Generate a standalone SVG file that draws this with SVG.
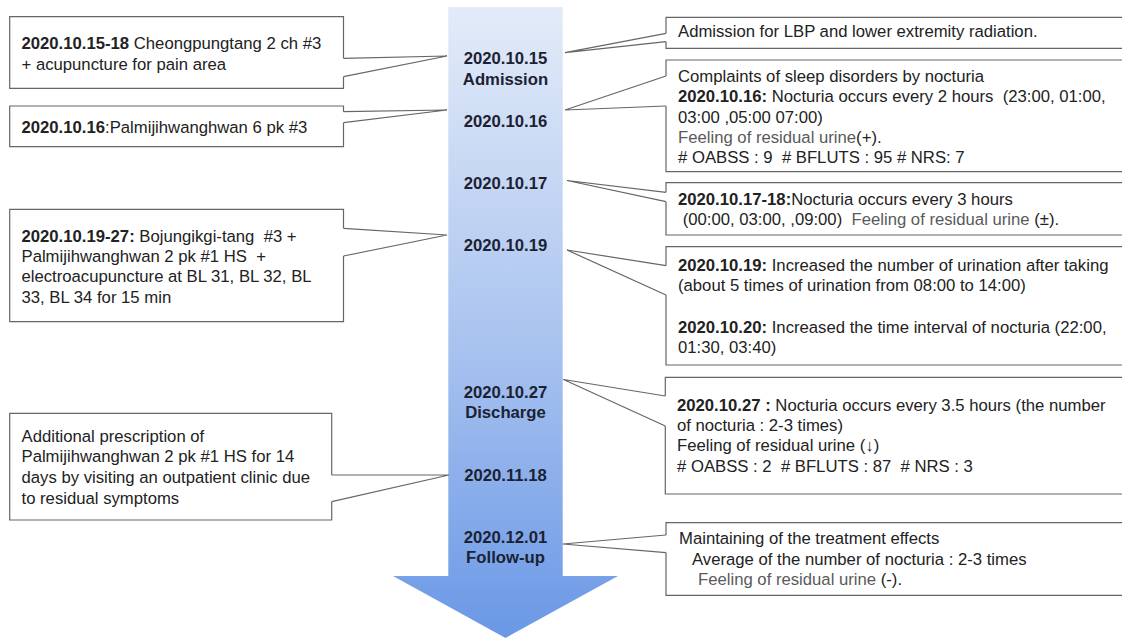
<svg xmlns="http://www.w3.org/2000/svg" width="1122" height="638" viewBox="0 0 1122 638">
<style>
text{font-family:"Liberation Sans",Arial,"DejaVu Sans",sans-serif;font-size:16.7px;fill:#222;white-space:pre}
.b{font-weight:bold}
.g{fill:#5a5a5a}
.lbl{font-weight:bold;text-anchor:middle;fill:#1c2233}
.box{fill:#fff;stroke:#666;stroke-width:1.2}
.con{fill:none;stroke:#666;stroke-width:1.2}
</style>
<defs>
<linearGradient id="ag" x1="0" y1="0" x2="0" y2="1">
<stop offset="0" stop-color="#e3ebf8"/>
<stop offset="0.5" stop-color="#adc6f0"/>
<stop offset="1" stop-color="#6a98e6"/>
</linearGradient>
</defs>
<rect width="1122" height="638" fill="#fff"/>
<g id="timeline-arrow">
<path d="M448.3,7 H562.7 V576 H618 L505.5,638 L393,576 H448.3 Z" fill="url(#ag)"/>
</g>
<g id="date-labels">
<g id="d1015"><text class="lbl" x="505.5" y="64.3">2020.10.15</text><text class="lbl" x="505.5" y="85">Admission</text></g>
<g id="d1016"><text class="lbl" x="505.5" y="126.7">2020.10.16</text></g>
<g id="d1017"><text class="lbl" x="505.5" y="189">2020.10.17</text></g>
<g id="d1019"><text class="lbl" x="505.5" y="251">2020.10.19</text></g>
<g id="d1027"><text class="lbl" x="505.5" y="397.7">2020.10.27</text><text class="lbl" x="505.5" y="417.7">Discharge</text></g>
<g id="d1118"><text class="lbl" x="505.5" y="481">2020.11.18</text></g>
<g id="d1201"><text class="lbl" x="505.5" y="542.7">2020.12.01</text><text class="lbl" x="505.5" y="563">Follow-up</text></g>
</g>
<g id="left-notes">
<g id="L1">
<path class="box" d="M343.5,58.3 V16.7 H9.7 V88.3 H343.5 V76.7"/>
<text x="21.5" y="49.3"><tspan class="b">2020.10.15-18</tspan> Cheongpungtang 2 ch #3</text>
<text x="21.5" y="69.5">+ acupuncture for pain area</text>
</g>
<g id="L2">
<path class="box" d="M343.5,111.7 V106 H9.7 V146.7 H343.5 V122.7"/>
<text x="21.5" y="132.7"><tspan class="b">2020.10.16</tspan>:Palmijihwanghwan 6 pk #3</text>
</g>
<g id="L3">
<path class="box" d="M343.5,228.3 V209.3 H9.7 V321.7 H343.5 V256"/>
<text x="21.5" y="241.7"><tspan class="b">2020.10.19-27:</tspan> Bojungikgi-tang  #3 +</text>
<text x="21.5" y="262">Palmijihwanghwan 2 pk #1 HS  +</text>
<text x="21.5" y="282.3">electroacupuncture at BL 31, BL 32, BL</text>
<text x="21.5" y="302.5">33, BL 34 for 15 min</text>
</g>
<g id="L4">
<path class="box" d="M331.7,475 V413.3 H9.7 V520 H331.7 V501.7"/>
<text x="21.5" y="441.7">Additional prescription of</text>
<text x="21.5" y="462.3">Palmijihwanghwan 2 pk #1 HS for 14</text>
<text x="21.5" y="483">days by visiting an outpatient clinic due</text>
<text x="21.5" y="503.5">to residual symptoms</text>
</g>
</g>
<g id="right-notes">
<g id="R1">
<path class="box" d="M666,33.3 V17.3 H1130 V48.3 H666 V41.7"/>
<text x="678" y="37.3">Admission for LBP and lower extremity radiation.</text>
</g>
<g id="R2">
<path class="box" d="M666,76 V60 H1130 V171.7 H666 V106"/>
<text x="678" y="81.7">Complaints of sleep disorders by nocturia</text>
<text x="678" y="102"><tspan class="b">2020.10.16:</tspan> Nocturia occurs every 2 hours  (23:00, 01:00,</text>
<text x="678" y="122.5">03:00 ,05:00 07:00)</text>
<text x="678" y="143"><tspan class="g">Feeling of residual urine</tspan>(+).</text>
<text x="678" y="163.3"># OABSS : 9  # BFLUTS : 95 # NRS: 7</text>
</g>
<g id="R3">
<path class="box" d="M666,192.3 V182.7 H1130 V235 H666 V201.7"/>
<text x="678" y="204.5"><tspan class="b">2020.10.17-18:</tspan>Nocturia occurs every 3 hours</text>
<text x="678" y="225"> (00:00, 03:00, ,09:00)  <tspan class="g">Feeling of residual urine</tspan> (±).</text>
</g>
<g id="R4">
<path class="box" d="M666,265.7 V246.7 H1130 V365 H666 V295"/>
<text x="678" y="270.5"><tspan class="b">2020.10.19:</tspan> Increased the number of urination after taking</text>
<text x="678" y="291">(about 5 times of urination from 08:00 to 14:00)</text>
<text x="678" y="332.5"><tspan class="b">2020.10.20:</tspan> Increased the time interval of nocturia (22:00,</text>
<text x="678" y="353">01:30, 03:40)</text>
</g>
<g id="R5">
<path class="box" d="M665.3,396 V377.3 H1130 V494 H665.3 V426"/>
<text x="677" y="410.5"><tspan class="b">2020.10.27 :</tspan> Nocturia occurs every 3.5 hours (the number</text>
<text x="677" y="431">of nocturia : 2-3 times)</text>
<text x="677" y="451.3">Feeling of residual urine (↓)</text>
<text x="677" y="471.7"># OABSS : 2  # BFLUTS : 87  # NRS : 3</text>
</g>
<g id="R6">
<path class="box" d="M666,535 V522.7 H1130 V595.3 H666 V552.7"/>
<text x="679" y="544">Maintaining of the treatment effects</text>
<text x="692" y="565">Average of the number of nocturia : 2-3 times</text>
<text x="698" y="585.3"><tspan class="g">Feeling of residual urine</tspan> (-).</text>
</g>
</g>
<g id="connectors">
<path class="con" d="M343.5,58.3 L447,56 L343.5,76.7"/>
<path class="con" d="M343.5,111.7 L447,110 L343.5,122.7"/>
<path class="con" d="M343.5,228.3 L447,235 L343.5,256"/>
<path class="con" d="M331.7,475 L449,475 L331.7,501.7"/>
<path class="con" d="M666,33.3 L565,52.7 L666,41.7"/>
<path class="con" d="M666,76 L565,110 L666,106"/>
<path class="con" d="M666,192.3 L567,180.5 L666,201.7"/>
<path class="con" d="M666,265.7 L567,250 L666,295"/>
<path class="con" d="M665.3,396 L563.5,379.5 L665.3,426"/>
<path class="con" d="M666,535 L562.7,544 L666,552.7"/>
</g>
</svg>
